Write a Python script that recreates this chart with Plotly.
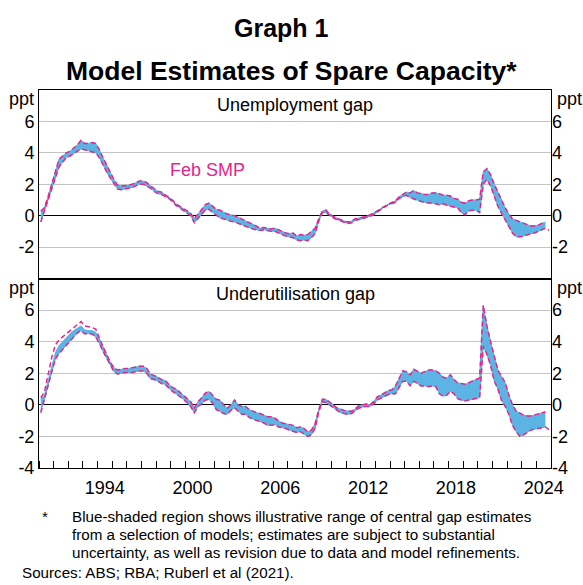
import pandas as pd
import plotly.graph_objects as go

# ---------------------------------------------------------------------------
# Quarterly gap estimates, 1990 Q1 - 2024 Q3 (ppt)
# ---------------------------------------------------------------------------
unemp_hi = [
    0.3, 0.5, 1.2, 2.0,        # 1990
    2.9, 3.6, 3.8, 4.0,        # 1991
    4.1, 4.3, 4.5, 4.8,        # 1992
    4.6, 4.6, 4.65, 4.6,       # 1993
    4.2, 3.7, 3.2, 2.7,        # 1994
    2.3, 1.95, 1.9, 1.9,       # 1995
    1.95, 2.0, 2.1, 2.2,       # 1996
    2.2, 2.1, 1.9, 1.7,        # 1997
    1.55, 1.5, 1.35, 1.2,      # 1998
    1.0, 0.75, 0.6, 0.5,       # 1999
    0.3, 0.15, -0.2, 0.1,      # 2000
    0.4, 0.7, 0.8, 0.6,        # 2001
    0.4, 0.35, 0.2, 0.1,       # 2002
    0.05, 0.0, -0.1, -0.2,     # 2003
    -0.3, -0.45, -0.55, -0.7,  # 2004
    -0.8, -0.75, -0.8, -0.85,  # 2005
    -0.8, -0.9, -1.0, -1.1,    # 2006
    -1.15, -1.1, -1.3, -1.2,   # 2007
    -1.25, -1.2, -1.0, -0.8,   # 2008
    -0.2, 0.3, 0.35, 0.1,      # 2009
    -0.05, -0.15, -0.25, -0.35,  # 2010
    -0.4, -0.35, -0.2, -0.15,  # 2011
    -0.1, -0.05, 0.05, 0.15,   # 2012
    0.3, 0.45, 0.6, 0.75,      # 2013
    0.85, 0.95, 1.2, 1.35,     # 2014
    1.5, 1.45, 1.6, 1.45,      # 2015
    1.4, 1.35, 1.35, 1.45,     # 2016
    1.45, 1.4, 1.3, 1.3,       # 2017
    1.25, 1.1, 1.05, 0.85,     # 2018
    0.8, 0.95, 1.0, 1.0,       # 2019
    1.05, 2.8, 3.0, 2.6,       # 2020
    2.0, 1.5, 1.0, 0.5,        # 2021
    0.1, -0.2, -0.3, -0.4,     # 2022
    -0.45, -0.55, -0.65, -0.65,  # 2023
    -0.6, -0.5, -0.4,          # 2024
]
unemp_lo = [
    -0.4, 0.3, 1.0, 1.7,
    2.5, 3.1, 3.4, 3.7,
    3.8, 3.95, 4.1, 4.25,
    4.2, 4.15, 4.1, 4.0,
    3.7, 3.2, 2.8, 2.4,
    2.0, 1.7, 1.65, 1.7,
    1.75, 1.8, 1.9, 2.0,
    2.0, 1.9, 1.75, 1.55,
    1.4, 1.35, 1.25, 1.1,
    0.9, 0.65, 0.5, 0.35,
    0.2, 0.0, -0.45, -0.2,
    0.1, 0.35, 0.4, 0.2,
    0.0, -0.15, -0.2, -0.3,
    -0.35, -0.4, -0.5, -0.6,
    -0.65, -0.75, -0.85, -0.9,
    -0.95, -0.9, -0.95, -1.0,
    -1.0, -1.1, -1.2, -1.3,
    -1.35, -1.4, -1.55, -1.6,
    -1.55, -1.6, -1.4, -1.15,
    -0.35, 0.2, 0.2, 0.0,
    -0.15, -0.25, -0.35, -0.45,
    -0.5, -0.45, -0.3, -0.25,
    -0.2, -0.1, -0.05, 0.05,
    0.25, 0.4, 0.55, 0.7,
    0.78, 0.85, 1.1, 1.2,
    1.3, 1.15, 1.05, 1.0,
    0.9, 0.85, 0.8, 0.8,
    0.75, 0.7, 0.75, 0.65,
    0.6, 0.55, 0.5, 0.2,
    0.05, 0.3, 0.35, 0.35,
    0.2, 2.0, 2.3, 1.9,
    1.2, 0.6, 0.15, -0.3,
    -0.65, -1.1, -1.35, -1.35,
    -1.3, -1.2, -1.15, -1.1,
    -1.0, -0.9, -0.8,
]
# February Statement on Monetary Policy range (extends one quarter further)
unemp_smp_hi = unemp_hi
unemp_smp_lo = unemp_lo + [-0.94]

util_hi = [
    0.35, 0.6, 1.5, 2.5,       # 1990
    3.3, 3.75, 4.0, 4.3,       # 1991
    4.5, 4.7, 4.85, 5.0,       # 1992
    4.75, 4.7, 4.7, 4.6,       # 1993
    4.2, 3.7, 3.2, 2.7,        # 1994
    2.35, 2.2, 2.25, 2.3,      # 1995
    2.3, 2.35, 2.4, 2.45,      # 1996
    2.45, 2.3, 1.95, 1.85,     # 1997
    1.75, 1.6, 1.55, 1.3,      # 1998
    1.1, 1.0, 0.8, 0.65,       # 1999
    0.45, 0.2, -0.2, 0.2,      # 2000
    0.45, 0.75, 0.85, 0.6,     # 2001
    0.35, 0.3, 0.0, -0.2,      # 2002
    0.0, 0.3, 0.0, -0.1,       # 2003
    -0.1, -0.3, -0.4, -0.5,    # 2004
    -0.55, -0.65, -0.75, -0.75,  # 2005
    -0.85, -1.0, -1.15, -1.2,  # 2006
    -1.25, -1.3, -1.45, -1.4,  # 2007
    -1.5, -1.7, -1.6, -1.2,    # 2008
    -0.3, 0.35, 0.35, 0.2,     # 2009
    0.0, -0.2, -0.3, -0.35,    # 2010
    -0.4, -0.4, -0.25, -0.05,  # 2011
    0.0, 0.05, 0.0, 0.2,       # 2012
    0.5, 0.6, 0.75, 0.9,       # 2013
    0.95, 1.2, 1.7, 2.15,      # 2014
    2.1, 1.9, 2.25, 2.1,       # 2015
    2.0, 2.1, 2.2, 2.2,        # 2016
    2.15, 2.0, 1.75, 1.7,      # 2017
    1.9, 1.6, 1.4, 1.35,       # 2018
    1.3, 1.4, 1.5, 1.6,        # 2019
    1.7, 6.3, 5.0, 4.0,        # 2020
    3.0, 2.2, 1.8, 1.4,        # 2021
    0.6, 0.0, -0.4, -0.55,     # 2022
    -0.65, -0.7, -0.7, -0.65,  # 2023
    -0.55, -0.5, -0.45,        # 2024
]
util_lo = [
    -0.4, 0.3, 1.2, 2.1,
    2.9, 3.25, 3.5, 3.8,
    4.0, 4.3, 4.55, 4.7,
    4.5, 4.5, 4.5, 4.3,
    3.9, 3.4, 3.0, 2.5,
    2.1, 1.95, 2.0, 2.05,
    2.05, 2.05, 2.1, 2.15,
    2.15, 2.0, 1.65, 1.6,
    1.5, 1.35, 1.3, 1.05,
    0.85, 0.7, 0.55, 0.35,
    0.15, -0.1, -0.5, -0.1,
    0.05, 0.3, 0.35, 0.1,
    -0.3, -0.4, -0.55, -0.6,
    -0.35, -0.2, -0.4, -0.6,
    -0.6, -0.8, -0.9, -1.0,
    -1.05, -1.15, -1.3, -1.3,
    -1.25, -1.4, -1.45, -1.5,
    -1.6, -1.7, -1.75, -1.7,
    -1.85, -2.0, -1.9, -1.5,
    -0.45, 0.2, 0.15, 0.0,
    -0.15, -0.35, -0.5, -0.55,
    -0.6, -0.55, -0.4, -0.2,
    -0.15, -0.1, -0.1, 0.05,
    0.3, 0.4, 0.55, 0.65,
    0.7, 0.7, 1.1, 1.5,
    1.5, 1.2, 1.5, 1.35,
    1.2, 1.2, 1.15, 1.2,
    1.15, 0.7, 0.55, 0.6,
    0.85, 0.7, 0.4, 0.3,
    0.25, 0.3, 0.35, 0.4,
    0.45, 3.7, 3.2, 2.5,
    1.5, 1.0, 0.3, -0.1,
    -0.6, -1.3, -1.7, -2.0,
    -1.9, -1.75, -1.6, -1.55,
    -1.5, -1.45, -1.4,
]
# February SMP range: higher upper edge through the early 1990s
util_smp_hi_early = [
    0.45, 0.8, 1.9, 3.0,
    3.8, 4.1, 4.3, 4.5,
    4.7, 4.9, 5.1, 5.27,
    5.0, 4.95, 4.9, 4.8,
    4.3,
]
util_smp_hi = util_smp_hi_early + util_hi[len(util_smp_hi_early):]
util_smp_lo = [-0.5] + util_lo[1:] + [-1.58]

year_labels = ["1994", "2000", "2006", "2012", "2018", "2024"]
left_ticks_top = [-2, 0, 2, 4, 6]
left_ticks_bottom = [-4, -2, 0, 2, 4, 6]

# mid-quarter dates
quarters = pd.period_range("1990Q1", "2024Q4", freq="Q")
dates = quarters.start_time + pd.Timedelta(days=45)

# ---------------------------------------------------------------------------
W, H = 583, 585
FONT = "Arial, 'Liberation Sans', Helvetica, sans-serif"
BLUE = "#5BB4E4"
PINK = "#E4268B"
GRID = "#C4C4C4"


def px(x):
    return x / W


def py(y):
    return 1 - y / H


x_dom = [px(39), px(551)]
top_dom = [py(278.5), py(90)]
bot_dom = [py(468), py(278.5)]

fig = go.Figure()


def add_panel(hi, lo, smp_hi, smp_lo, xa, ya):
    n = len(hi)
    fig.add_trace(go.Scatter(x=dates[:n], y=lo, mode="lines",
                             line=dict(color=BLUE, width=1),
                             xaxis=xa, yaxis=ya, hoverinfo="skip",
                             showlegend=False))
    fig.add_trace(go.Scatter(x=dates[:n], y=hi, mode="lines",
                             line=dict(color=BLUE, width=1),
                             fill="tonexty", fillcolor=BLUE,
                             xaxis=xa, yaxis=ya, hoverinfo="skip",
                             showlegend=False))
    for s in (smp_hi, smp_lo):
        fig.add_trace(go.Scatter(x=dates[:len(s)], y=s, mode="lines",
                                 line=dict(color=PINK, width=1.5,
                                           dash="5px,3px"),
                                 xaxis=xa, yaxis=ya, hoverinfo="skip",
                                 showlegend=False))


add_panel(unemp_hi, unemp_lo, unemp_smp_hi, unemp_smp_lo, "x", "y")
add_panel(util_hi, util_lo, util_smp_hi, util_smp_lo, "x2", "y2")

x_range = ["1990-01-01", "2025-01-01"]
tick_dates = [f"{y}-07-02" for y in year_labels]

axis_font = dict(family=FONT, size=18, color="black")

common_x = dict(type="date", range=x_range, domain=x_dom, showgrid=False,
                zeroline=False, showline=True, mirror=True,
                linecolor="black", linewidth=1, automargin=False)

common_y = dict(range=[-4, 8], showgrid=True, gridcolor=GRID, gridwidth=1.2,
                zeroline=True, zerolinecolor="black", zerolinewidth=1,
                showline=True, mirror=True, linecolor="black", linewidth=1,
                ticks="", tickfont=axis_font, tickmode="array",
                automargin=False)

right_y = dict(range=[-4, 8], showgrid=False, zeroline=False,
               showline=False, ticks="", tickfont=axis_font,
               tickmode="array", side="right", automargin=False)

fig.update_layout(
    width=W, height=H,
    autosize=False,
    margin=dict(l=0, r=0, t=0, b=0, pad=0),
    paper_bgcolor="white", plot_bgcolor="white",
    showlegend=False,
    xaxis=dict(common_x, anchor="y", showticklabels=False, ticks=""),
    xaxis2=dict(common_x, anchor="y2", tickmode="array",
                tickvals=tick_dates, ticktext=year_labels, ticks="",
                tickfont=axis_font, ticklabelstandoff=3,
                minor=dict(ticks="inside", ticklen=7, tickcolor="black",
                           tickwidth=1, dtick="M12", tick0="1990-01-01",
                           showgrid=False)),
    yaxis=dict(common_y, domain=top_dom, anchor="x",
               tickvals=left_ticks_top,
               ticktext=[str(v) for v in left_ticks_top]),
    yaxis2=dict(common_y, domain=bot_dom, anchor="x2",
                tickvals=left_ticks_bottom,
                ticktext=[str(v) for v in left_ticks_bottom]),
    yaxis3=dict(right_y, overlaying="y", anchor="x",
                tickvals=left_ticks_top,
                ticktext=[str(v) for v in left_ticks_top]),
    yaxis4=dict(right_y, overlaying="y2", anchor="x2",
                tickvals=left_ticks_bottom,
                ticktext=[str(v) for v in left_ticks_bottom]),
)

# invisible traces so the right-hand axes are drawn
fig.add_trace(go.Scatter(x=[dates[0]], y=[None], xaxis="x", yaxis="y3",
                         showlegend=False, hoverinfo="skip"))
fig.add_trace(go.Scatter(x=[dates[0]], y=[None], xaxis="x2", yaxis="y4",
                         showlegend=False, hoverinfo="skip"))


def note(text, x, y, size=18, color="black", bold=False, xanchor="center"):
    if bold:
        text = f"<b>{text}</b>"
    fig.add_annotation(text=text, x=px(x), y=py(y), xref="paper",
                       yref="paper", showarrow=False, xanchor=xanchor,
                       yanchor="middle",
                       font=dict(family=FONT, size=size, color=color))


note("Graph 1", 281, 28, size=25, bold=True)
note("Model Estimates of Spare Capacity*", 291.5, 71, size=26.5, bold=True)

note("Unemployment gap", 295, 105)
note("Underutilisation gap", 295, 294)

for yy in (99, 288):
    note("ppt", 36, yy, xanchor="right")
    note("ppt", 555, yy, xanchor="left")

note("Feb SMP", 207, 170, color=PINK)

foot = 15.2
note("*", 40, 516, size=foot, xanchor="left")
note("Blue-shaded region shows illustrative range of central gap estimates",
     70, 516, size=foot, xanchor="left")
note("from a selection of models; estimates are subject to substantial",
     70, 534, size=foot, xanchor="left")
note("uncertainty, as well as revision due to data and model refinements.",
     70, 552.5, size=foot, xanchor="left")
note("Sources: ABS; RBA; Ruberl et al (2021).", 20, 572, size=foot,
     xanchor="left")

fig.write_html("out.html")
